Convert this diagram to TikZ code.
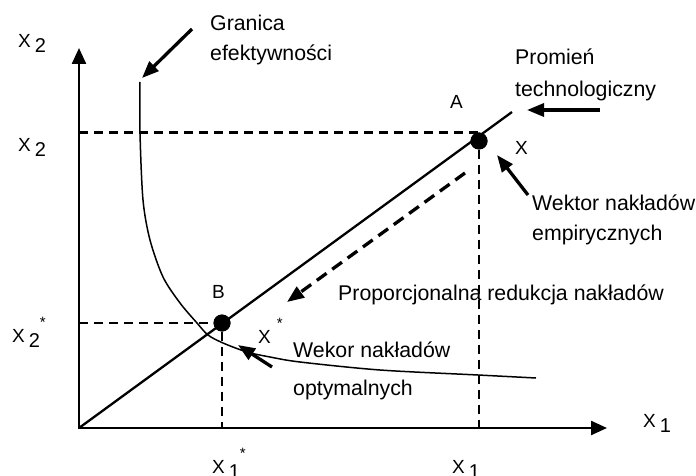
\documentclass[tikz,border=0pt]{standalone}
\usepackage{fontspec}
\setmainfont{Liberation Sans}
\usetikzlibrary{arrows.meta}

\newcommand{\xlab}[1]{X\kern4pt\raisebox{-5pt}{\fontsize{20}{20}\selectfont #1}}
\newcommand{\starmark}{\raisebox{15pt}{\fontsize{15}{15}\selectfont *}}

\begin{document}
\begin{tikzpicture}[x=1pt,y=-1pt,
   axis/.style={line width=2.4pt,{Triangle[length=16pt,width=14pt]}-{Triangle[length=16pt,width=14pt]}},
   guide/.style={line width=2.8pt,dash pattern=on 9pt off 6pt},
   pointer/.style={line width=3.3pt,-{Triangle[length=17pt,width=13pt]}},
   dot/.style={circle,fill=black,inner sep=0pt,minimum size=17pt},
   txt/.style={font=\fontsize{21.3}{30}\selectfont,inner sep=0pt,align=left,anchor=north west},
   lab/.style={font=\fontsize{19}{20}\selectfont,inner sep=0pt,anchor=base west}]
   \useasboundingbox (0,0) rectangle (696,476);
   % axes and ray
   \coordinate (O) at (79,428);
   \coordinate (ytip) at (79,48);
   \coordinate (xtip) at (607,428);
   \coordinate (rayend) at (512,112);
   \node[dot] (A) at (479,141) {};
   \node[dot] (B) at (222,323) {};
   \draw[guide] (A.north -| O) -- (A.north);
   \draw[guide] (A) -- (A |- O);
   \draw[guide] (B -| O) -- (B);
   \draw[guide] (B) -- (B |- O);
   \draw[axis] (ytip) -- (O) -- (xtip);
   \draw[line width=2.3pt] (O) -- (rayend);
   \node[dot] at (A) {};
   \node[dot] at (B) {};
   % efficiency frontier
   \draw[line width=1.5pt] plot[smooth] coordinates {(140,82) (140,133) (143,200) (150,240) (163,277) (180,303) (197,323) (208,335) (223,343) (247,352) (270,357) (300,362) (380,370) (478,375) (536,378)};
   % pointers
   \coordinate (granT) at (192,29);
   \coordinate (granH) at (142,78);
   \coordinate (promT) at (600,110);
   \coordinate (promH) at (527,110);
   \coordinate (empT) at (528,195);
   \coordinate (empH) at (497,155);
   \coordinate (optT) at (272,367);
   \coordinate (optH) at (238,345);
   \coordinate (redT) at (465,173);
   \coordinate (redH) at (287,302);
   \draw[pointer] (granT) -- (granH);
   \draw[pointer] (promT) -- (promH);
   \draw[pointer] (empT) -- (empH);
   \draw[pointer] (optT) -- (optH);
   \draw[pointer,dash pattern=on 12pt off 7pt] (redT) -- (redH);
   % labels
   \node[lab] (x2top) at (18,48) {\xlab{2}};
   \node[lab] (x2A) at (18,152) {\xlab{2}};
   \node[lab] (x2B) at (12,342) {\xlab{2}\starmark};
   \node[lab] (x1B) at (212,473) {\xlab{1}\starmark};
   \node[lab] (x1A) at (452,473) {\xlab{1}};
   \node[lab] (x1ax) at (643,427) {\xlab{1}};
   \node[lab] (labA) at (450,109) {A};
   \node[lab] (labX) at (515,154) {X};
   \node[lab] (labB) at (212,298) {B};
   \node[lab] (labXs) at (258,343) {X\kern6pt\starmark};
   \node[txt] (gran) at (210,15) {Granica\\efektywności};
   \node[txt] (prom) at (515,49) {Promień\\[2pt]technologiczny};
   \node[txt] (emp) at (532,195) {Wektor nakładów\\empirycznych};
   \node[txt] (red) at (338,285) {Proporcjonalna redukcja nakładów};
   \node[txt] (opt) at (293,342) {Wekor nakładów\\[8pt]optymalnych};
\end{tikzpicture}
\end{document}
